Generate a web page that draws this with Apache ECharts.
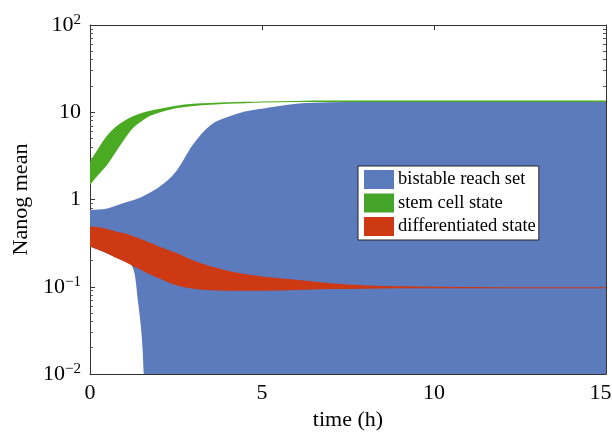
<!DOCTYPE html>
<html>
<head>
<meta charset="utf-8">
<script src="https://cdn.jsdelivr.net/npm/echarts@6/dist/echarts.min.js"></script>
<style>
  html, body { margin: 0; padding: 0; background: #fff; }
  #chart { width: 612px; height: 432px; }
</style>
</head>
<body>
<div id="chart"></div>
<script>
// time grid (h)
var time = [0, 0.25, 0.5, 0.75, 1, 1.25, 1.5, 1.75, 2, 2.5, 3, 3.5, 4, 4.5, 5, 6, 7, 8, 9, 10, 12, 15];

// bistable reach set: upper edge
var blueHigh = [0.76, 0.77, 0.79, 0.85, 0.92, 0.98, 1.07, 1.2, 1.38, 2.1, 4.3, 7.1, 8.8, 10.2, 11.0, 12.5, 13.0, 13.1, 13.1, 13.1, 13.1, 13.1];
// bistable reach set: lower edge (drops below the axis floor)
var blueLowTime = [0, 0.5, 1, 1.21, 1.31, 1.4, 1.48, 1.53, 1.57, 15];
var blueLow = [0.29, 0.24, 0.195, 0.175, 0.132, 0.065, 0.035, 0.019, 0.01, 0.01];

// stem cell state
var greenHigh = [2.7, 3.9, 5.4, 6.8, 8.0, 9.0, 9.8, 10.4, 10.9, 11.9, 12.5, 12.8, 13.0, 13.2, 13.3, 13.5, 13.6, 13.6, 13.6, 13.6, 13.6, 13.6];
var greenLow = [1.47, 1.93, 2.5, 3.5, 4.9, 6.6, 7.9, 9.1, 9.9, 11.1, 11.8, 12.2, 12.5, 12.7, 12.9, 13.1, 13.1, 13.1, 13.1, 13.1, 13.1, 13.1];

// differentiated state
var redHigh = [0.49, 0.48, 0.46, 0.43, 0.41, 0.38, 0.35, 0.32, 0.29, 0.245, 0.2, 0.172, 0.153, 0.14, 0.131, 0.12, 0.11, 0.104, 0.101, 0.1, 0.099, 0.099];
var redLow = [0.29, 0.265, 0.24, 0.215, 0.195, 0.173, 0.155, 0.138, 0.125, 0.104, 0.095, 0.091, 0.09, 0.09, 0.09, 0.092, 0.094, 0.095, 0.096, 0.096, 0.096, 0.096];

var seriesNames = ['bistable reach set', 'stem cell state', 'differentiated state'];
var xTicks = [0, 5, 10, 15];
var yMinorTicks = [0.02, 0.03, 0.04, 0.05, 0.06, 0.07, 0.08, 0.09,
                   0.2, 0.3, 0.4, 0.5, 0.6, 0.7, 0.8, 0.9,
                   2, 3, 4, 5, 6, 7, 8, 9,
                   20, 30, 40, 50, 60, 70, 80, 90];
// exponent -> label
var yTickLabels = {
  '2': '{b|10}{s|2}',
  '1': '{b|10}',
  '0': '{b|1}',
  '-1': '{b|10}{s|\u22121}',
  '-2': '{b|10}{s|\u22122}'
};

var FONT = 'Liberation Serif';
var chart = echarts.init(document.getElementById('chart'));

// monotone cubic segments (pixel space), like d3 curveMonotoneX
function monoSegs(p) {
  var n = p.length, d = [], m = [], segs = [];
  for (var k = 0; k < n - 1; k++) {
    d.push((p[k + 1][1] - p[k][1]) / (p[k + 1][0] - p[k][0]));
  }
  m[0] = d[0];
  m[n - 1] = d[n - 2];
  for (k = 1; k < n - 1; k++) {
    m[k] = (d[k - 1] * d[k] <= 0) ? 0 : (d[k - 1] + d[k]) / 2;
  }
  for (k = 0; k < n - 1; k++) {
    if (d[k] === 0) { m[k] = 0; m[k + 1] = 0; continue; }
    var a = m[k] / d[k], b = m[k + 1] / d[k], s = a * a + b * b;
    if (s > 9) {
      var t = 3 / Math.sqrt(s);
      m[k] = t * a * d[k];
      m[k + 1] = t * b * d[k];
    }
  }
  for (k = 0; k < n - 1; k++) {
    var h = (p[k + 1][0] - p[k][0]) / 3;
    segs.push([p[k],
      [p[k][0] + h, p[k][1] + m[k] * h],
      [p[k + 1][0] - h, p[k + 1][1] - m[k + 1] * h],
      p[k + 1]]);
  }
  return segs;
}

function f(pt) { return pt[0].toFixed(2) + ' ' + pt[1].toFixed(2); }

// band: upper edge forward, lower edge backward
function band(tHi, hi, tLo, lo, color) {
  return function (params, api) {
    var up = [], dn = [], i;
    for (i = 0; i < hi.length; i++) up.push(api.coord([tHi[i], hi[i]]));
    for (i = 0; i < lo.length; i++) dn.push(api.coord([tLo[i], lo[i]]));
    var su = monoSegs(up), sd = monoSegs(dn);
    var path = 'M' + f(up[0]);
    for (i = 0; i < su.length; i++) path += ' C' + f(su[i][1]) + ' ' + f(su[i][2]) + ' ' + f(su[i][3]);
    path += ' L' + f(dn[dn.length - 1]);
    for (i = sd.length - 1; i >= 0; i--) path += ' C' + f(sd[i][2]) + ' ' + f(sd[i][1]) + ' ' + f(sd[i][0]);
    path += ' Z';
    return {
      type: 'path',
      shape: { pathData: path },
      style: { fill: color }
    };
  };
}

function bandSeries(name, color, renderItem) {
  return {
    name: name,
    type: 'custom',
    xAxisIndex: 0,
    yAxisIndex: 0,
    clip: true,
    itemStyle: { color: color },
    data: [[0, 1]],
    renderItem: renderItem
  };
}

var frame = { show: true, lineStyle: { color: '#333', width: 1 } };

function yAxisDef(pos, minor) {
  return {
    type: 'log',
    logBase: 10,
    min: 0.01,
    max: 100,
    position: pos,
    axisLine: minor ? { show: false } : frame,
    axisTick: minor
      ? { show: true, inside: true, length: 3, customValues: yMinorTicks, lineStyle: { color: '#555' } }
      : { show: true, inside: true, length: 5, lineStyle: { color: '#333' } },
    axisLabel: (minor || pos === 'right') ? { show: false } : {
      show: true,
      margin: 9,
      formatter: function (v) {
        return yTickLabels[String(Math.round(Math.log10(v)))];
      },
      rich: {
        b: { fontFamily: FONT, fontSize: 22, color: '#000', lineHeight: 24 },
        s: { fontFamily: FONT, fontSize: 15, color: '#000', lineHeight: 14, verticalAlign: 'top' }
      }
    },
    splitLine: { show: false },
    name: (minor || pos === 'right') ? '' : 'Nanog mean',
    nameLocation: 'middle',
    nameGap: 54,
    nameTextStyle: { fontFamily: FONT, fontSize: 22, color: '#000' }
  };
}

chart.setOption({
  animation: false,
  backgroundColor: '#fff',
  grid: { left: 90, right: 6, top: 25, bottom: 58, outerBoundsMode: 'none', containLabel: false },
  legend: {
    orient: 'vertical',
    left: 358,
    top: 166,
    itemWidth: 30,
    itemHeight: 19,
    itemGap: 4.5,
    padding: [4, 3, 4, 6],
    backgroundColor: '#fff',
    borderColor: '#222',
    borderWidth: 1,
    borderRadius: 0,
    icon: 'rect',
    textStyle: { fontFamily: FONT, fontSize: 18.5, color: '#000', padding: [0, 0, 0, -1] },
    data: seriesNames
  },
  xAxis: [{
    type: 'value',
    min: 0,
    max: 15,
    interval: 5,
    position: 'bottom',
    axisLine: frame,
    axisTick: { show: true, inside: true, length: 5, lineStyle: { color: '#333' } },
    axisLabel: {
      show: true, margin: 8,
      fontFamily: FONT, fontSize: 22, color: '#000',
      customValues: xTicks,
      hideOverlap: false,
      formatter: function (v) {
        // last label sits flush with the page edge
        return v === xTicks[xTicks.length - 1] ? '{r|' + v + '}' : String(v);
      },
      rich: {
        r: { fontFamily: FONT, fontSize: 22, color: '#000', padding: [0, 11, 0, 0] }
      }
    },
    splitLine: { show: false },
    name: 'time (h)',
    nameLocation: 'middle',
    nameGap: 29,
    nameTextStyle: { fontFamily: FONT, fontSize: 22, color: '#000' }
  }, {
    type: 'value',
    min: 0,
    max: 15,
    interval: 5,
    position: 'top',
    axisLine: frame,
    axisTick: { show: true, inside: true, length: 5, lineStyle: { color: '#333' } },
    axisLabel: { show: false },
    splitLine: { show: false }
  }],
  yAxis: [yAxisDef('left', false), yAxisDef('left', true), yAxisDef('right', false), yAxisDef('right', true)],
  series: [
    bandSeries(seriesNames[0], '#5b7bbd', band(time, blueHigh, blueLowTime, blueLow, '#5b7bbd')),
    bandSeries(seriesNames[1], '#45a52a', band(time, greenHigh, time, greenLow, '#4aab22')),
    bandSeries(seriesNames[2], '#cc3913', band(time, redHigh, time, redLow, '#cc3913'))
  ]
});
</script>
</body>
</html>
